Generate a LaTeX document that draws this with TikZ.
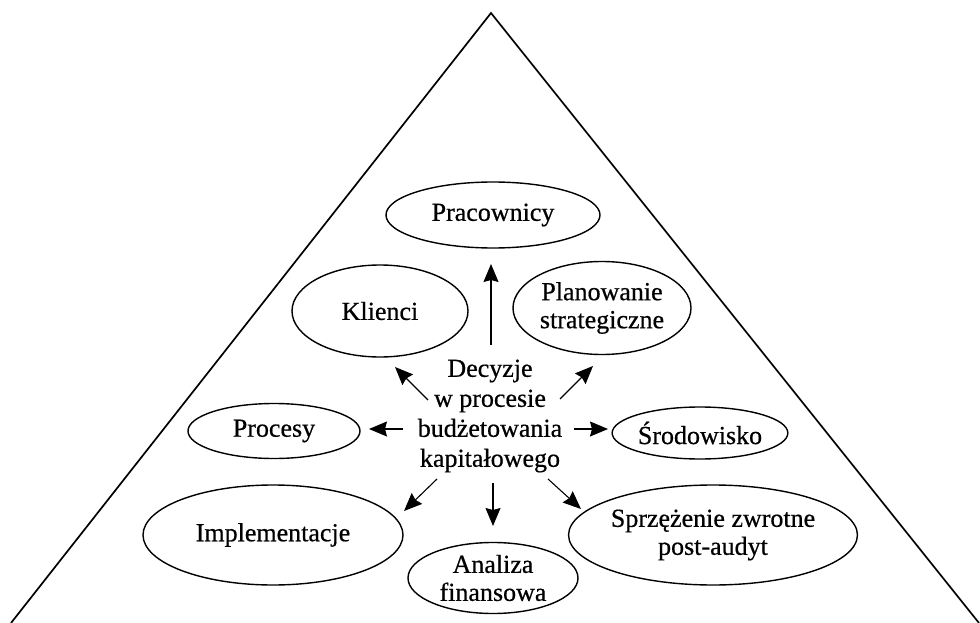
\documentclass[tikz,border=0pt]{standalone}
\usepackage{fontspec}
\setmainfont{Liberation Serif}[FakeBold=0.6]
\usetikzlibrary{shapes.geometric,arrows.meta}

\tikzset{
  frame/.style={line width=1.7pt, line join=miter},
  topic/.style={ellipse, draw, line width=1.4pt, inner sep=0pt, align=center,
    font=\fontsize{26}{28}\selectfont},
  core/.style={align=center, inner sep=0pt, font=\fontsize{26}{30}\selectfont},
  link/.style={line width=1.1pt, -{Stealth[length=18pt,width=15pt,inset=2pt]}}
}

\begin{document}
\begin{tikzpicture}[x=1pt,y=-1pt]
  \useasboundingbox (0,0) rectangle (980,623);

  % outer pyramid
  \coordinate (apex) at (491,13);
  \coordinate (baseL) at (11,623);
  \coordinate (baseR) at (979,623);
  \draw[frame] (baseL) -- (apex) -- (baseR);

  % surrounding topics
  \node[topic, minimum width=214pt, minimum height=66pt] (prac) at (493,215) {Pracownicy};
  \node[topic, minimum width=176pt, minimum height=92pt] (klie) at (380,311) {Klienci};
  \node[topic, minimum width=178pt, minimum height=93pt] (plan) at (602,308) {Planowanie\\strategiczne};
  \node[topic, minimum width=172pt, minimum height=55pt] (proc) at (274,431) {Procesy};
  \node[topic, minimum width=174pt, minimum height=52pt] (srod) at (700,433) {Środowisko};
  \node[topic, minimum width=260pt, minimum height=100pt] (impl) at (273,535) {Implementacje};
  \node[topic, minimum width=260pt, minimum height=100pt] (sprz) at (713,535) {Sprzężenie zwrotne\\post-audyt};
  \node[topic, minimum width=170pt, minimum height=71pt] (anal) at (493,578) {Analiza\\finansowa};

  % central decision block
  \node[core] (dec) at (490,416) {Decyzje\\w procesie\\budżetowania\\kapitałowego};

  % arrow ends around the central block
  \coordinate (tU)  at (491,345); \coordinate (hU)  at (491,264);
  \coordinate (tUL) at (428,400); \coordinate (hUL) at (395,367);
  \coordinate (tUR) at (560,399); \coordinate (hUR) at (593,366);
  \coordinate (tL)  at (403,429); \coordinate (hL)  at (369,429);
  \coordinate (tR)  at (574,429); \coordinate (hR)  at (608,429);
  \coordinate (tDL) at (437,479); \coordinate (hDL) at (404,511);
  \coordinate (tD)  at (493,483); \coordinate (hD)  at (493,526);
  \coordinate (tDR) at (548,479); \coordinate (hDR) at (581,509);

  \draw[link] (tU)  -- (hU);
  \draw[link] (tUL) -- (hUL);
  \draw[link] (tUR) -- (hUR);
  \draw[link] (tL)  -- (hL);
  \draw[link] (tR)  -- (hR);
  \draw[link] (tDL) -- (hDL);
  \draw[link] (tD)  -- (hD);
  \draw[link] (tDR) -- (hDR);
\end{tikzpicture}
\end{document}
